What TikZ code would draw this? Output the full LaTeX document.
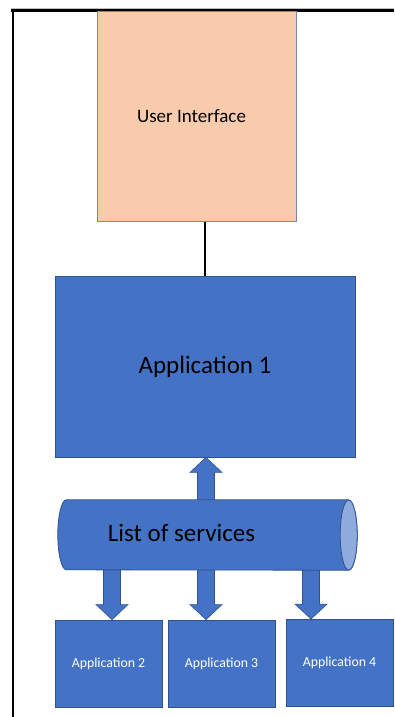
\documentclass[tikz,border=0pt]{standalone}
\usepackage{fontspec}
\setmainfont{Carlito}
\usepackage{tikz}
\usetikzlibrary{calc}
\definecolor{peach}{RGB}{248,203,173}
\definecolor{peachedge}{RGB}{114,137,186}
\definecolor{appblue}{RGB}{68,114,196}
\definecolor{appedge}{RGB}{47,82,143}
\definecolor{endblue}{RGB}{143,170,220}
\tikzset{
  uibox/.style={rectangle,draw=peachedge,fill=peach,line width=1pt,inner sep=0pt,
    minimum width=199pt,minimum height=209pt,font=\fontsize{19}{23}\selectfont},
  mainapp/.style={rectangle,draw=appedge,fill=appblue,line width=0.8pt,inner sep=0pt,
    minimum width=300pt,minimum height=181pt,font=\fontsize{25}{30}\selectfont},
  subapp/.style={rectangle,draw=appedge,fill=appblue,line width=0.8pt,inner sep=0pt,
    minimum width=107pt,minimum height=87pt,text=white,font=\fontsize{13.8}{16}\selectfont},
  servicebus/.style={rectangle,inner sep=0pt,minimum width=299pt,minimum height=70pt},
  busbody/.style={draw=appedge,fill=appblue,line width=0.8pt},
  busend/.style={draw=appedge,fill=endblue,line width=0.8pt},
  bustext/.style={font=\fontsize{25}{30}\selectfont},
  link/.style={line width=1.6pt,draw=black},
  blockarrow/.style={draw=appedge,fill=appblue,line width=0.6pt,line join=miter},
  framegray/.style={line width=1.4pt,draw=black!25},
  frameblack/.style={line width=2.6pt,draw=black}
}
% block arrow from #1 to #2
\newcommand{\blockarrow}[2]{%
  \coordinate (ba-n) at ($(#2)!15pt!(#1)$);
  \filldraw[blockarrow] ($(#1)!8.5pt!90:(#2)$) -- ($(ba-n)!8.5pt!90:(#2)$)
    -- ($(ba-n)!16pt!90:(#2)$) -- (#2) -- ($(ba-n)!16pt!-90:(#2)$)
    -- ($(ba-n)!8.5pt!-90:(#2)$) -- ($(#1)!8.5pt!-90:(#2)$) -- cycle;
}
\begin{document}
\begin{tikzpicture}[x=1pt,y=-1pt]
  \useasboundingbox (0,0) rectangle (394,717);
  \draw[framegray] (11,8.3) -- (394,8.3);
  \draw[frameblack] (11,10.7) -- (394,10.7);
  \draw[frameblack] (13,9.4) -- (13,717);

  \node[uibox] (ui) at (196.5,116.5) {\hspace*{-10pt}User Interface};
  \node[mainapp] (app1) at (205,366.5) {Application 1};
  \draw[link] (app1.north) -- (app1.north |- ui.south);

  \node[subapp] (app2) at (108.5,663.5) {Application 2};
  \node[subapp] (app3) at (221.5,663.5) {Application 3};
  \node[subapp] (app4) at (339.5,663) {Application 4};

  \node[servicebus] (bus) at (207.5,535) {};

  % where the arrows leave the bus
  \coordinate (tap2) at (112,0);
  \coordinate (tap3) at (206,0);
  \coordinate (tap4) at (311,0);

  \blockarrow{bus.center -| tap3}{app1.south -| tap3}
  \blockarrow{bus.center -| tap2}{app2.north -| tap2}
  \blockarrow{bus.center -| tap3}{app3.north -| tap3}
  \blockarrow{bus.center -| tap4}{app4.north -| tap4}

  % the bus, drawn as a lying cylinder
  \filldraw[busbody] ($(bus.north east)+(-8.5,0)$) -- ($(bus.north west)+(8.5,0)$)
    arc[start angle=90,end angle=270,x radius=8.5pt,y radius=35pt]
    -- ($(bus.south east)+(-8.5,0)$)
    arc[start angle=-90,end angle=90,x radius=8.5pt,y radius=35pt] -- cycle;
  \filldraw[busend] ($(bus.east)+(-8.5,0)$) ellipse[x radius=8.5pt,y radius=35pt];
  \node[bustext] (bustitle) at (181.5,533) {List of services};
\end{tikzpicture}
\end{document}
